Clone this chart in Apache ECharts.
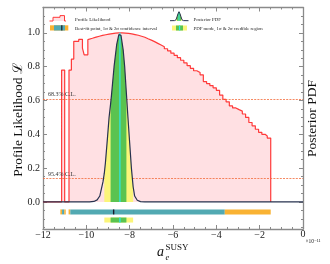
<!DOCTYPE html>
<html><head><meta charset="utf-8">
<script src="https://cdn.jsdelivr.net/npm/echarts@6/dist/echarts.min.js"></script>
<style>html,body{margin:0;padding:0;background:#fff}#c{width:330px;height:264px}</style>
</head><body><div id="c"></div>
<script>
// ---------- data ----------
const xTicks = [-12, -10, -8, -6, -4, -2, 0];
const yTicks = [0, 0.2, 0.4, 0.6, 0.8, 1.0];

// Profile likelihood (step, value holds from x[i] to x[i+1])
const profileX = [-12, -11.14, -11.0, -10.8, -10.69, -10.58, -10.35, -10.18, -10.1, -9.93, -9.85, -9.72,
  -9.55, -9.4, -9.25, -9.1, -8.95, -8.8, -8.65, -8.5, -8.35, -8.2, -8.05, -7.9, -7.75, -7.6, -7.45, -7.3,
  -7.15, -7.0, -6.85, -6.7, -6.55, -6.4, -6.25, -6.1, -5.95, -5.8, -5.65, -5.5, -5.35, -5.2, -5.05, -4.9,
  -4.75, -4.6, -4.45, -4.3, -4.15, -4.0, -3.85, -3.7, -3.55, -3.4, -3.25, -3.1, -2.95, -2.8, -2.65, -2.5,
  -2.35, -2.2, -2.05, -1.9, -1.75, -1.65, -1.49];
const profileL = [0, 0.78, 0, 0.78, 0.845, 0.95, 0.962, 0.91, 0.87, 0.96, 0.968, 0.975,
  0.98, 0.985, 0.989, 0.993, 0.996, 0.998, 1.0, 1.0, 0.999, 0.997, 0.994, 0.99, 0.986, 0.98, 0.974, 0.965,
  0.957, 0.948, 0.938, 0.928, 0.918, 0.906, 0.894, 0.88, 0.867, 0.853, 0.838, 0.822, 0.806, 0.79, 0.776, 0.765,
  0.752, 0.712, 0.7, 0.688, 0.675, 0.66, 0.632, 0.607, 0.592, 0.568, 0.556, 0.546, 0.537, 0.52, 0.5, 0.47,
  0.45, 0.43, 0.412, 0.4, 0.39, 0.378, 0];

// Posterior PDF (normalised to peak 1)
const pdfX = [-12, -9.85, -9.65, -9.5, -9.38, -9.23, -9.17, -9.12, -9.03, -8.95, -8.88, -8.84, -8.72, -8.6, -8.5,
  -8.45, -8.4, -8.3, -8.23, -8.15, -8.08, -8.0, -7.92, -7.84, -7.77, -7.65, -7.5, -7.3, 0];
const pdfY = [0, 0, 0.003, 0.012, 0.035, 0.12, 0.17, 0.23, 0.37, 0.5, 0.58, 0.63, 0.8, 0.93, 0.99,
  1.0, 0.985, 0.9, 0.8, 0.64, 0.5, 0.35, 0.2, 0.09, 0.035, 0.01, 0.002, 0, 0];

const clLevels = [0.6065, 0.1353];
const clLabels = ['68.3% C.L.', '95.4% C.L.'];

// confidence intervals: start, end, level (1 = 1σ, 2 = 2σ)
const confStart = [-11.2, -11.12, -11.02, -10.82, -10.74, -3.61];
const confEnd   = [-11.12, -11.02, -10.95, -10.74, -3.61, -1.49];
const confLevel = [2, 1, 2, 2, 1, 2];
const bestFit = -8.74;

const credible2 = [-9.17, -7.84];
const credible1 = [-8.88, -8.15];
const pdfMode = -8.45;

// ---------- styles ----------
const FONT = '"Liberation Serif", "DejaVu Serif", serif';
const RED = '#ff3a3a', PINK = '#ffe0e3', NAVY = '#27324f';
const TEAL = '#52a9b2', ORANGE = '#f9b233', YELLOW = '#fbf57a', GREEN = '#5ac350', CYAN = '#2ee6e0';
const AXC = '#8a8a8a';
const CONF_ROW = -0.059, CRED_ROW = -0.107, BAR_H = 5;

const profileData = profileX.map((x, i) => [x, profileL[i]]);
const pdfData = pdfX.map((x, i) => [x, pdfY[i]]);
const inRange = (r) => pdfData.filter(d => d[0] >= r[0] - 1e-9 && d[0] <= r[1] + 1e-9);
const fmtX = v => String(v).replace('-', '\u2212');

const minorY = [];
for (let v = -0.15; v <= 1.151; v += 0.05) {
  const r = Math.round(v * 100) / 100;
  if (!yTicks.some(t => Math.abs(t - r) < 1e-6)) minorY.push(r);
}

function yAx(pos, values, len, labels, line) {
  return {
    type: 'value', min: -0.16, max: 1.15, position: pos,
    axisLine: { show: line, onZero: false, lineStyle: { color: AXC, width: 1.3 } },
    axisTick: { show: true, inside: true, length: len, customValues: values, lineStyle: { color: AXC, width: 1 } },
    axisLabel: labels ? { show: true, customValues: yTicks, margin: 3, color: '#222', fontSize: 10, fontFamily: FONT,
      formatter: v => v.toFixed(1) } : { show: false },
    splitLine: { show: false }
  };
}
function xAx(pos) {
  return {
    type: 'value', min: -12, max: 0, interval: 2, position: pos,
    axisLine: { show: true, onZero: false, lineStyle: { color: AXC, width: 1.3 } },
    axisTick: { show: true, inside: true, length: 4, lineStyle: { color: AXC, width: 1 } },
    minorTick: { show: true, splitNumber: 4, length: 2, lineStyle: { color: AXC, width: 1 } },
    axisLabel: { show: false },
    splitLine: { show: false }, minorSplitLine: { show: false }
  };
}
const xLabelAxis = {
  type: 'value', min: -12, max: 0.0001, position: 'bottom', gridIndex: 0,
  axisLine: { show: false, onZero: false }, axisTick: { show: false }, splitLine: { show: false },
  axisLabel: { show: true, margin: 2, lineHeight: 8, color: '#222', fontSize: 10, fontFamily: FONT,
    customValues: xTicks.slice(0, -1), hideOverlap: false, formatter: fmtX }
};

function intervalSeries(starts, ends, colorFn, rowY, z) {
  return {
    type: 'custom', xAxisIndex: 0, yAxisIndex: 0, z: z, silent: true,
    data: starts.map((s, i) => [s, ends[i]]),
    encode: { x: [0, 1] },
    renderItem(params, api) {
      const a = api.coord([api.value(0), rowY]);
      const b = api.coord([api.value(1), rowY]);
      return { type: 'rect', shape: { x: a[0], y: a[1] - BAR_H / 2, width: b[0] - a[0], height: BAR_H },
        style: { fill: colorFn(params.dataIndex) } };
    }
  };
}
function markerSeries(x, rowY, color, z) {
  return {
    type: 'custom', xAxisIndex: 0, yAxisIndex: 0, z: z, silent: true,
    data: [[x]], encode: { x: [0] },
    renderItem(params, api) {
      const a = api.coord([api.value(0), rowY]);
      return { type: 'rect', shape: { x: a[0] - 0.7, y: a[1] - BAR_H / 2, width: 1.4, height: BAR_H },
        style: { fill: color } };
    }
  };
}

const chart = echarts.init(document.getElementById('c'), null, { renderer: 'canvas' });
chart.setOption({
  animation: false,
  backgroundColor: '#fff',
  grid: { left: 43, right: 27, top: 7.5, bottom: 35, containLabel: false },
  xAxis: [xAx('bottom'), xAx('top'), xLabelAxis],
  yAxis: [
    yAx('left', yTicks, 4, true, true),
    yAx('left', minorY, 2, false, false),
    yAx('right', yTicks, 4, false, true),
    yAx('right', minorY, 2, false, false)
  ],
  series: [
    { type: 'line', name: 'Profile Likelihood', step: 'end', data: profileData, showSymbol: false, z: 2,
      lineStyle: { color: RED, width: 1.2 }, areaStyle: { color: PINK, opacity: 1 } },
    { type: 'line', data: [], z: 3, silent: true,
      markLine: {
        silent: true, symbol: 'none', z: 3,
        lineStyle: { color: '#f26b3a', width: 0.8, type: [2, 1.2] },
        label: { position: 'insideStartTop', fontSize: 6, fontFamily: FONT, color: '#333', distance: [5, 1] },
        data: clLevels.map((v, i) => ({ yAxis: v, label: { formatter: clLabels[i] } }))
      } },
    { type: 'line', data: inRange(credible2), showSymbol: false, z: 4,
      lineStyle: { width: 0 }, areaStyle: { color: YELLOW, opacity: 1 } },
    { type: 'line', data: inRange(credible1), showSymbol: false, z: 5,
      lineStyle: { width: 0 }, areaStyle: { color: GREEN, opacity: 1 } },
    { type: 'line', data: [[pdfMode, 0], [pdfMode, pdfY[pdfX.indexOf(pdfMode)]]], showSymbol: false, z: 6,
      lineStyle: { color: CYAN, width: 1.3 } },
    { type: 'line', name: 'Posterior PDF', data: pdfData, showSymbol: false, z: 7,
      lineStyle: { color: NAVY, width: 1.2 } },
    intervalSeries(confStart, confEnd, i => confLevel[i] === 1 ? TEAL : ORANGE, CONF_ROW, 8),
    markerSeries(bestFit, CONF_ROW, '#1a1a2a', 9),
    intervalSeries([credible2[0]], [credible2[1]], () => YELLOW, CRED_ROW, 8),
    intervalSeries([credible1[0]], [credible1[1]], () => GREEN, CRED_ROW, 9),
    markerSeries(pdfMode, CRED_ROW, CYAN, 10)
  ],
  graphic: [
    // legend: profile likelihood
    { type: 'polygon', z: 10, shape: { points: [[50, 21], [53, 21], [53, 17.3], [60, 17.3], [60, 15.6], [64.5, 15.6], [64.5, 21]] },
      style: { fill: PINK } },
    { type: 'polyline', z: 11, shape: { points: [[49.5, 21], [53, 21], [53, 17.3], [60, 17.3], [60, 15.6], [64.5, 15.6], [64.5, 21], [66, 21]] },
      style: { stroke: RED, lineWidth: 1, fill: null } },
    { type: 'text', z: 11, style: { text: 'Profile Likelihood', x: 75, y: 19.3, fontSize: 4.8, fontFamily: FONT, fill: '#222', verticalAlign: 'middle' } },
    // legend: confidence interval
    { type: 'rect', z: 10, shape: { x: 50, y: 25.3, width: 18.3, height: 5.2 }, style: { fill: ORANGE } },
    { type: 'rect', z: 11, shape: { x: 54, y: 25.3, width: 11, height: 5.2 }, style: { fill: TEAL } },
    { type: 'rect', z: 12, shape: { x: 61.2, y: 25.3, width: 1.2, height: 5.2 }, style: { fill: '#1a1a2a' } },
    { type: 'text', z: 11, style: { text: 'Best-fit point, 1\u03c3 & 2\u03c3 confidence interval', x: 75, y: 28.6, fontSize: 4.8, fontFamily: FONT, fill: '#222', verticalAlign: 'middle' } },
    // legend: posterior PDF
    { type: 'polygon', z: 10, shape: { points: [[175.8, 20.7], [176.2, 19.6], [177, 16.8], [178, 13.8], [179, 11.7], [180, 13.8], [181, 16.8], [181.8, 19.6], [182.2, 20.7]] },
      style: { fill: YELLOW } },
    { type: 'polygon', z: 11, shape: { points: [[177, 20.7], [177, 16.8], [178, 13.8], [179, 11.7], [180, 13.8], [181, 16.8], [181, 20.7]] },
      style: { fill: GREEN } },
    { type: 'line', z: 12, shape: { x1: 179, y1: 20.7, x2: 179, y2: 12 }, style: { stroke: CYAN, lineWidth: 1 } },
    { type: 'polyline', z: 13, shape: { points: [[170, 20.7], [174.5, 20.6], [176, 19.8], [177, 16.8], [178, 13.8], [179, 11.7], [180, 13.8], [181, 16.8], [182, 19.8], [183.5, 20.6], [188.5, 20.7]] },
      style: { stroke: NAVY, lineWidth: 1, fill: null } },
    { type: 'text', z: 11, style: { text: 'Posterior PDF', x: 193.5, y: 19.3, fontSize: 4.8, fontFamily: FONT, fill: '#222', verticalAlign: 'middle' } },
    // legend: credible region
    { type: 'rect', z: 10, shape: { x: 172, y: 25.5, width: 15, height: 5 }, style: { fill: YELLOW } },
    { type: 'rect', z: 11, shape: { x: 176, y: 25.5, width: 7, height: 5 }, style: { fill: GREEN } },
    { type: 'rect', z: 12, shape: { x: 179, y: 25.5, width: 1.2, height: 5 }, style: { fill: CYAN } },
    { type: 'text', z: 11, style: { text: 'PDF mode, 1\u03c3 & 2\u03c3 credible region', x: 193.5, y: 28.6, fontSize: 4.8, fontFamily: FONT, fill: '#222', verticalAlign: 'middle' } },
    // last x tick label, "0", with its ×10⁻¹¹ multiplier just below-right
    { type: 'text', z: 50, x: 300.5, y: 229.8,
      style: { text: fmtX(xTicks[xTicks.length - 1]), fontSize: 10, fontFamily: FONT, fill: '#222', align: 'left', verticalAlign: 'top' } },
    { type: 'text', z: 50, x: 305.5, y: 238.5,
      style: { text: '\u00d710\u207b\u00b9\u00b9', fontSize: 5.5, fontFamily: FONT, fill: '#222', align: 'left', verticalAlign: 'top' } },
    // axis titles
    { type: 'text', z: 11, x: 18, y: 120, rotation: Math.PI / 2,
      style: { text: 'Profile Likelihood \u2112', fontSize: 13.5, fontFamily: FONT, fill: '#111', align: 'center', verticalAlign: 'middle' } },
    { type: 'text', z: 11, x: 312, y: 118.5, rotation: Math.PI / 2,
      style: { text: 'Posterior PDF', fontSize: 13.5, fontFamily: FONT, fill: '#111', align: 'center', verticalAlign: 'middle' } },
    { type: 'text', z: 11, style: { text: 'a', x: 157, y: 252, fontSize: 14, fontStyle: 'italic', fontFamily: FONT, fill: '#111', verticalAlign: 'middle' } },
    { type: 'text', z: 11, style: { text: 'SUSY', x: 165.5, y: 247.5, fontSize: 9, fontFamily: FONT, fill: '#111', verticalAlign: 'middle' } },
    { type: 'text', z: 11, style: { text: 'e', x: 165.5, y: 257.5, fontSize: 8.5, fontStyle: 'italic', fontFamily: FONT, fill: '#111', verticalAlign: 'middle' } }
  ]
});
</script>
</body></html>
